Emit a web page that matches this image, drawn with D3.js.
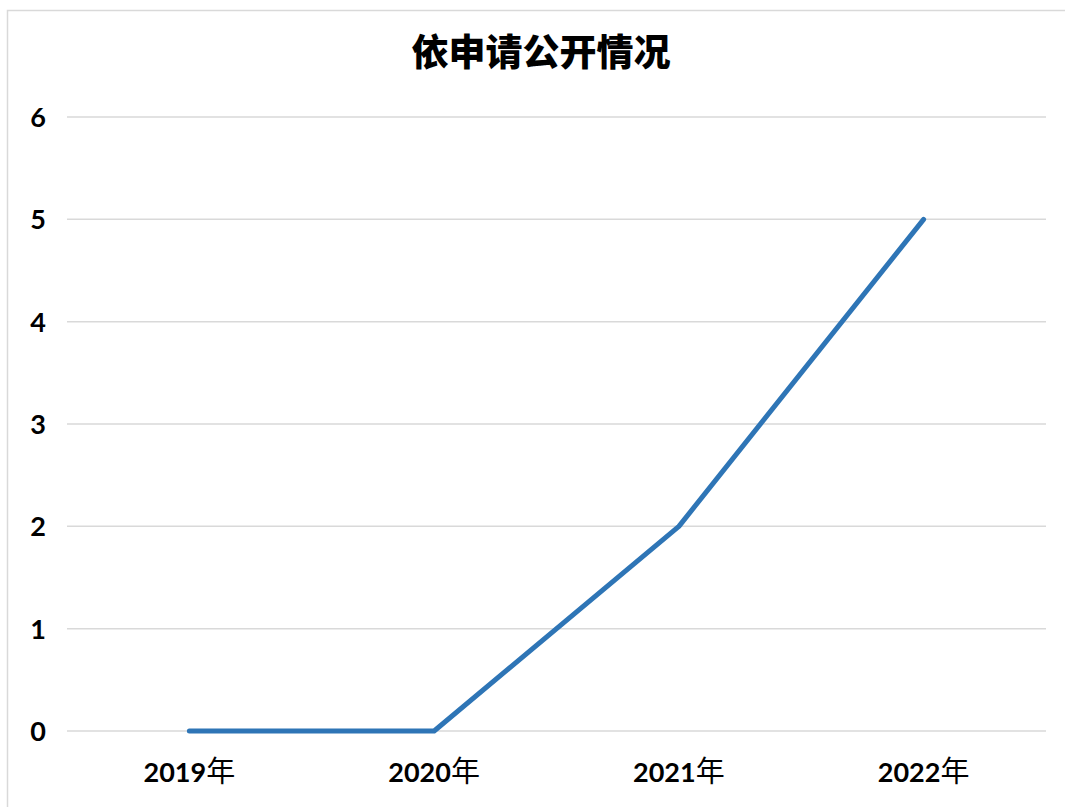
<!DOCTYPE html>
<html>
<head>
  <meta charset="utf-8">
  <style>
    body { margin: 0; background: #fff; }
    text { font-family: Lato, "Noto Sans CJK SC", sans-serif; }
  </style>
</head>
<body>
  <script src="https://d3js.org/d3.v7.min.js"></script>
  <script>
    // chart values
    const years = ["2019", "2020", "2021", "2022"];
    const counts = [0, 0, 2, 5];
    const yTicks = [0, 1, 2, 3, 4, 5, 6];
    const title = "依申请公开情况";

    const w = 1065;
    const h = 807;
    const plotLeft = 67, plotRight = 1046, plotTop = 117, plotBottom = 731;

    const svg = d3.select("body")
      .append("svg")
      .attr("width", w)
      .attr("height", h);

    // outer frame of the chart area
    svg.append("rect")
      .attr("x", 7.5)
      .attr("y", 10.5)
      .attr("width", w)
      .attr("height", h)
      .attr("fill", "none")
      .attr("stroke", "#d9d9d9")
      .attr("stroke-width", 1.5);

    const xScale = d3.scaleBand()
      .domain(years)
      .range([plotLeft, plotRight]);

    const yScale = d3.scaleLinear()
      .domain([0, 6])
      .range([plotBottom, plotTop]);

    // gridlines
    svg.append("g")
      .selectAll("line")
      .data(yTicks)
      .enter()
      .append("line")
      .attr("x1", plotLeft)
      .attr("x2", plotRight)
      .attr("y1", (d) => yScale(d))
      .attr("y2", (d) => yScale(d))
      .attr("stroke", "#d9d9d9")
      .attr("stroke-width", 1.5);

    // y labels
    svg.append("g")
      .selectAll("text")
      .data(yTicks)
      .enter()
      .append("text")
      .attr("x", 38)
      .attr("y", (d) => yScale(d) + 10)
      .attr("text-anchor", "middle")
      .attr("font-size", 27)
      .attr("font-weight", "bold")
      .attr("fill", "#000")
      .text((d) => d);

    // x labels: bold digits, plain 年
    const xl = svg.append("g")
      .selectAll("text")
      .data(years)
      .enter()
      .append("text")
      .attr("x", (d) => xScale(d) + xScale.bandwidth() / 2)
      .attr("y", 782)
      .attr("text-anchor", "middle")
      .attr("font-size", 27)
      .attr("fill", "#000");
    xl.append("tspan").attr("font-weight", "bold").text((d) => d);
    xl.append("tspan")
      .attr("font-family", "Noto Sans CJK SC")
      .attr("font-size", 29)
      .attr("font-weight", "normal")
      .text("年");

    // the line
    const line = d3.line()
      .x((d, i) => xScale(years[i]) + xScale.bandwidth() / 2)
      .y((d) => yScale(d));

    svg.append("path")
      .datum(counts)
      .attr("d", line)
      .attr("fill", "none")
      .attr("stroke", "#2e75b6")
      .attr("stroke-width", 5)
      .attr("stroke-linecap", "round")
      .attr("stroke-linejoin", "round");

    // title
    svg.append("text")
      .attr("x", 541)
      .attr("y", 66)
      .attr("text-anchor", "middle")
      .attr("font-family", "Noto Sans CJK SC")
      .attr("font-size", 37)
      .attr("font-weight", "900")
      .attr("fill", "#000")
      .text(title);
  </script>
</body>
</html>
